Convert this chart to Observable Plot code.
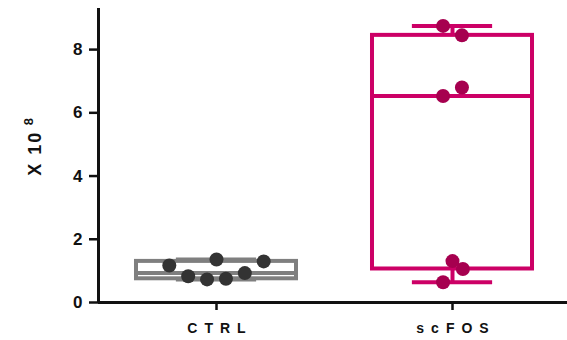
<!DOCTYPE html>
<html>
<head>
<meta charset="utf-8">
<script src="https://cdn.jsdelivr.net/npm/d3@7"></script>
<script src="https://cdn.jsdelivr.net/npm/@observablehq/plot@0.6"></script>
<style>
  html, body { margin: 0; padding: 0; background: #fff; overflow: hidden; }
  #chart svg text { font-family: "Liberation Sans", Arial, sans-serif; font-weight: bold; fill: #111; }
</style>
</head>
<body>
<div id="chart"></div>
<script>
// ---- data ----
const groups = ["CTRL", "scFOS"];
const ctrlValues  = [1.17, 1.36, 1.30, 0.83, 0.73, 0.75, 0.93];
const ctrlJitter  = [-0.20, 0.00, 0.20, -0.12, -0.04, 0.04, 0.12];
const scfosValues = [8.75, 8.45, 6.80, 6.53, 1.31, 1.06, 0.64];
const scfosJitter = [-0.04, 0.04, 0.04, -0.04, 0.00, 0.044, -0.04];
const yTicks = [0, 2, 4, 6, 8];
const yLabel = "X 10";
const yLabelExp = "8";

const boxColors = ["#7f7f7f", "#cc0066"];
const dotColors = ["#333333", "#a6004f"];

// quartiles (Prism-style: position (n+1)p, 1-indexed)
function q(sorted, p) {
  const n = sorted.length;
  let pos = (n + 1) * p;
  if (pos < 1) pos = 1;
  if (pos > n) pos = n;
  const lo = Math.floor(pos), hi = Math.ceil(pos);
  return sorted[lo - 1] + (pos - lo) * (sorted[hi - 1] - sorted[lo - 1]);
}
const series = [ctrlValues, scfosValues];
const jitters = [ctrlJitter, scfosJitter];
const stats = series.map((vals, i) => {
  const s = vals.slice().sort((a, b) => a - b);
  return { i, min: s[0], q1: q(s, 0.25), med: q(s, 0.5), q3: q(s, 0.75), max: s[s.length - 1] };
});
const points = series.flatMap((vals, i) => vals.map((v, k) => ({ i, x: i + jitters[i][k], y: v })));

const halfBox = 0.339, halfCap = 0.17, sw = 4;

const chart = Plot.plot({
  width: 567,
  height: 340,
  marginLeft: 98,
  marginRight: -3,
  marginTop: 8,
  marginBottom: 38,
  x: { domain: [-0.5, 1.5], axis: null },
  y: { domain: [0, 9.3], axis: null },
  marks: [
    // boxes
    Plot.rect(stats, { x1: d => d.i - halfBox, x2: d => d.i + halfBox, y1: "q1", y2: "q3",
      fill: "none", stroke: d => boxColors[d.i], strokeWidth: sw }),
    Plot.ruleY(stats, { y: "med", x1: d => d.i - halfBox, x2: d => d.i + halfBox, stroke: d => boxColors[d.i], strokeWidth: sw }),
    // whiskers
    Plot.ruleX(stats, { x: "i", y1: "q3", y2: "max", stroke: d => boxColors[d.i], strokeWidth: sw }),
    Plot.ruleX(stats, { x: "i", y1: "min", y2: "q1", stroke: d => boxColors[d.i], strokeWidth: sw }),
    Plot.ruleY(stats, { y: "max", x1: d => d.i - halfCap, x2: d => d.i + halfCap, stroke: d => boxColors[d.i], strokeWidth: sw }),
    Plot.ruleY(stats, { y: "min", x1: d => d.i - halfCap, x2: d => d.i + halfCap, stroke: d => boxColors[d.i], strokeWidth: sw }),
    // points
    Plot.dot(points, { x: "x", y: "y", r: 7, fill: d => dotColors[d.i], stroke: "none" }),
    // axes: ticks
    Plot.axisY(yTicks, { tickSize: 9, tickFormat: () => "", strokeWidth: 2.5, stroke: "#111" }),
    Plot.axisX([0, 1], { tickSize: 8, tickFormat: () => "", strokeWidth: 2.5, stroke: "#111" }),
    // axes: labels
    Plot.text(yTicks, { y: d => d, frameAnchor: "left", dx: -16, textAnchor: "end", text: d => String(d),
      fontSize: 17, fontWeight: "bold", fill: "#111" }),
    Plot.text([0, 1], { x: d => d, frameAnchor: "bottom", dy: 30, dx: 3.5, text: d => groups[d],
      fontSize: 14, fontWeight: "bold", fill: "#111" }),
    Plot.ruleX([-0.5], { y1: 0, y2: 9.3, stroke: "#111", strokeWidth: 3 }),
    Plot.ruleY([0], { x1: -0.5, x2: 1.5, stroke: "#111", strokeWidth: 3 }),
    // y label
    Plot.text([yLabel], { frameAnchor: "left", dx: -63, y: [4.72], text: d => d, rotate: -90, fontSize: 18,
      fontWeight: "bold", textAnchor: "middle" }),
    Plot.text([yLabelExp], { frameAnchor: "left", dx: -70, y: [5.72], text: d => d, rotate: -90, fontSize: 13,
      fontWeight: "bold", textAnchor: "middle" })
  ]
});
// letter spacing for the category labels and the y label
d3.select(chart).selectAll("text").each(function () {
  const t = this.textContent;
  if (groups.includes(t)) this.style.letterSpacing = "7px";
  else if (t === yLabel) this.style.letterSpacing = "2px";
});
document.getElementById("chart").appendChild(chart);
</script>
</body>
</html>
